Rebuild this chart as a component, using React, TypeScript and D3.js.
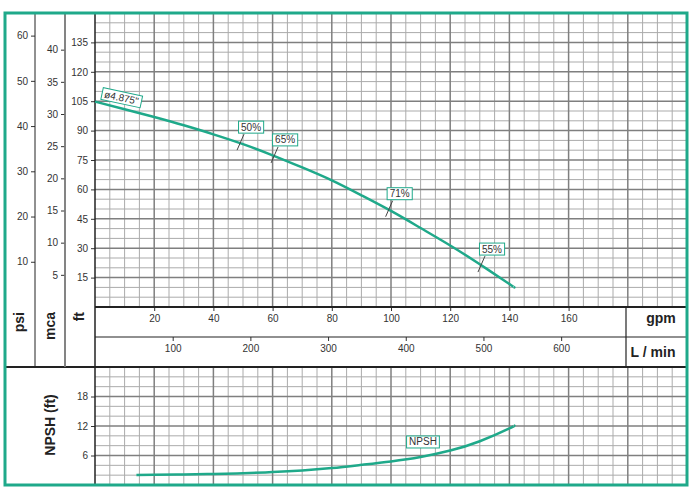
import React, { useEffect, useRef } from 'react';
import * as d3 from 'd3';

// Pump curve readings (flow in gpm, head in ft)
const flowGpm = [0, 10, 20, 30, 40, 50, 60, 70, 80, 90, 100, 110, 120, 130, 140, 141.5];
const headFt = [104.8, 100.9, 96.9, 92.7, 88.1, 83.1, 77.4, 71.2, 64.6, 57.0, 49.0, 40.3, 31.4, 21.8, 11.7, 10.2];

// NPSH readings
const npshFlowGpm = [14, 20, 30, 40, 50, 60, 70, 80, 90, 100, 110, 120, 130, 140, 141.5];
const npshFt = [2.05, 2.1, 2.15, 2.25, 2.4, 2.62, 2.95, 3.45, 4.1, 4.8, 5.7, 7.0, 8.9, 11.5, 12.1];

// Efficiency marks along the head curve
const efficiencyLabels = ['50%', '65%', '71%', '55%'];
const efficiencyGpm = [49, 60.5, 99.2, 130.4];

const impellerLabel = 'ø4.875"';
const impellerAt = [8.95, 106.8];
const npshLabel = 'NPSH';
const npshLabelAt = [110.8, 8.75];

// Axis ticks
const psiTicks = [10, 20, 30, 40, 50, 60];
const mcaTicks = [5, 10, 15, 20, 25, 30, 35, 40];
const ftTicks = [15, 30, 45, 60, 75, 90, 105, 120, 135];
const gpmTicks = [20, 40, 60, 80, 100, 120, 140, 160];
const lpmTicks = [100, 200, 300, 400, 500, 600];
const npshTicks = [6, 12, 18];

const W = 696;
const H = 497;

export default function App() {
    const svgRef = useRef<SVGSVGElement>(null);

    useEffect(() => {
        const svg = d3.select(svgRef.current);
        svg.selectAll('*').remove();

        const teal = '#1fa98a';
        const font = '"Liberation Sans", Arial, sans-serif';
        const left = 95, right = 687, top = 13;
        const mainBottom = 307, bandMid = 337, bandBottom = 367, bottom = 485;

        const x = d3.scaleLinear().domain([0, 200]).range([left, right]);
        const xL = d3.scaleLinear().domain([0, 762]).range([left, right]);
        const yFt = d3.scaleLinear().domain([0, 150]).range([mainBottom, top]);
        const yPsi = d3.scaleLinear().domain([0, 65]).range([mainBottom, top]);
        const yMca = d3.scaleLinear().domain([0, 45.7]).range([mainBottom, top]);
        const yN = d3.scaleLinear().domain([0, 24]).range([bottom, bandBottom]);

        svg.append('rect').attr('width', W).attr('height', H).attr('fill', '#fff');

        // Grid
        const grid = svg.append('g');
        const vLines = d3.range(5, 200, 5);
        const hMain = d3.range(5, 150, 5);
        const hNpsh = d3.range(2, 24, 2);
        const drawGrid = (major: boolean) => {
            const stroke = major ? '#7f7f7f' : '#ababab';
            const sw = major ? 1.5 : 1;
            vLines.filter(v => (v % 20 === 0) === major).forEach(v => {
                grid.append('line').attr('x1', x(v)).attr('x2', x(v)).attr('y1', top).attr('y2', mainBottom)
                    .attr('stroke', stroke).attr('stroke-width', sw);
                grid.append('line').attr('x1', x(v)).attr('x2', x(v)).attr('y1', bandBottom).attr('y2', bottom)
                    .attr('stroke', stroke).attr('stroke-width', sw);
            });
            hMain.filter(v => (v % 15 === 0) === major).forEach(v => {
                grid.append('line').attr('x1', left).attr('x2', right).attr('y1', yFt(v)).attr('y2', yFt(v))
                    .attr('stroke', stroke).attr('stroke-width', sw);
            });
            hNpsh.filter(v => (v % 6 === 0) === major).forEach(v => {
                grid.append('line').attr('x1', left).attr('x2', right).attr('y1', yN(v)).attr('y2', yN(v))
                    .attr('stroke', stroke).attr('stroke-width', sw);
            });
        };
        drawGrid(false);
        drawGrid(true);

        // Axes
        const styleAxis = (g: any) => {
            g.select('.domain').remove();
            g.selectAll('text').attr('font-size', 10).attr('font-family', font).attr('fill', '#333');
            g.selectAll('line').attr('stroke', '#333');
        };
        svg.append('g').attr('transform', `translate(35,0)`)
            .call(d3.axisLeft(yPsi).tickValues(psiTicks).tickSize(4).tickPadding(3)).call(styleAxis);
        svg.append('g').attr('transform', `translate(65,0)`)
            .call(d3.axisLeft(yMca).tickValues(mcaTicks).tickSize(4).tickPadding(3)).call(styleAxis);
        svg.append('g').attr('transform', `translate(${left},0)`)
            .call(d3.axisLeft(yFt).tickValues(ftTicks).tickSize(4).tickPadding(3)).call(styleAxis);
        svg.append('g').attr('transform', `translate(${left},0)`)
            .call(d3.axisLeft(yN).tickValues(npshTicks).tickSize(4).tickPadding(3)).call(styleAxis);
        svg.append('g').attr('transform', `translate(0,${mainBottom})`)
            .call(d3.axisBottom(x).tickValues(gpmTicks).tickSize(4).tickPadding(4)).call(styleAxis);
        svg.append('g').attr('transform', `translate(0,${bandMid})`)
            .call(d3.axisBottom(xL).tickValues(lpmTicks).tickSize(4).tickPadding(4)).call(styleAxis);

        // Frame lines
        const line = (x1: number, y1: number, x2: number, y2: number, stroke: string, sw: number) =>
            svg.append('line').attr('x1', x1).attr('y1', y1).attr('x2', x2).attr('y2', y2)
                .attr('stroke', stroke).attr('stroke-width', sw);
        line(left, mainBottom, right, mainBottom, '#222', 2);
        line(left, bandMid, right, bandMid, '#222', 1.2);
        line(5, bandBottom, right, bandBottom, '#222', 2);
        line(35, top, 35, bandBottom, '#222', 1);
        line(65, top, 65, bandBottom, '#777', 1.8);
        line(left, top, left, bottom, '#222', 1.5);
        line(626, mainBottom, 626, bandBottom, '#222', 1.2);

        // Titles
        const title = (txt: string, tx: number, ty: number, rot: boolean, anchor: string) =>
            svg.append('text').text(txt)
                .attr('transform', `translate(${tx},${ty})${rot ? ' rotate(-90)' : ''}`)
                .attr('text-anchor', anchor).attr('font-family', font).attr('font-weight', 'bold')
                .attr('font-size', 14).attr('fill', '#222');
        title('psi', 24, 312, true, 'end');
        title('mca', 54.5, 312, true, 'end');
        title('ft', 84, 312, true, 'end');
        title('NPSH (ft)', 54.5, 425, true, 'middle');
        title('gpm', 661, 323, false, 'middle');
        title('L / min', 653, 357, false, 'middle');

        // Curves
        const headLine = d3.line<number>()
            .x((_, i) => x(flowGpm[i]))
            .y(d => yFt(d))
            .curve(d3.curveNatural);
        svg.append('path').datum(headFt).attr('d', headLine)
            .attr('fill', 'none').attr('stroke', teal).attr('stroke-width', 2.5);

        const npshLine = d3.line<number>()
            .x((_, i) => x(npshFlowGpm[i]))
            .y(d => yN(d))
            .curve(d3.curveNatural);
        svg.append('path').datum(npshFt).attr('d', npshLine)
            .attr('fill', 'none').attr('stroke', teal).attr('stroke-width', 2.5);

        // Labels
        const boxLabel = (g: any, txt: string) => {
            const t = g.append('text').text(txt).attr('text-anchor', 'middle').attr('dy', '0.35em')
                .attr('font-family', font).attr('font-size', 10).attr('fill', '#333');
            const b = (t.node() as SVGTextElement).getBBox();
            g.insert('rect', 'text').attr('x', b.x - 2.5).attr('y', b.y - 0.5)
                .attr('width', b.width + 5).attr('height', b.height + 1)
                .attr('fill', '#fff').attr('stroke', teal).attr('stroke-width', 1);
        };

        const headAt = (g: number) => {
            const i = Math.min(d3.bisectLeft(flowGpm, g), flowGpm.length - 1);
            const i0 = Math.max(i - 1, 0);
            const t = flowGpm[i] === flowGpm[i0] ? 0 : (g - flowGpm[i0]) / (flowGpm[i] - flowGpm[i0]);
            return headFt[i0] + t * (headFt[i] - headFt[i0]);
        };

        efficiencyLabels.forEach((lab, i) => {
            const px = x(efficiencyGpm[i]);
            const py = yFt(headAt(efficiencyGpm[i]));
            line(px - 3, py + 7, px + 4, py - 9, '#444', 1);
            const g = svg.append('g').attr('transform', `translate(${px + 11},${py - 16})`);
            boxLabel(g, lab);
        });

        const gi = svg.append('g')
            .attr('transform', `translate(${x(impellerAt[0])},${yFt(impellerAt[1])}) rotate(12)`);
        boxLabel(gi, impellerLabel);

        const gn = svg.append('g')
            .attr('transform', `translate(${x(npshLabelAt[0])},${yN(npshLabelAt[1])})`);
        boxLabel(gn, npshLabel);

        // Outer frame
        svg.append('rect').attr('x', 5).attr('y', top).attr('width', right - 5).attr('height', bottom - top)
            .attr('fill', 'none').attr('stroke', teal).attr('stroke-width', 3);
    }, []);

    return (
        <svg ref={svgRef} width={W} height={H}
            style={{ position: 'absolute', left: 0, top: 0, display: 'block' }} />
    );
}
